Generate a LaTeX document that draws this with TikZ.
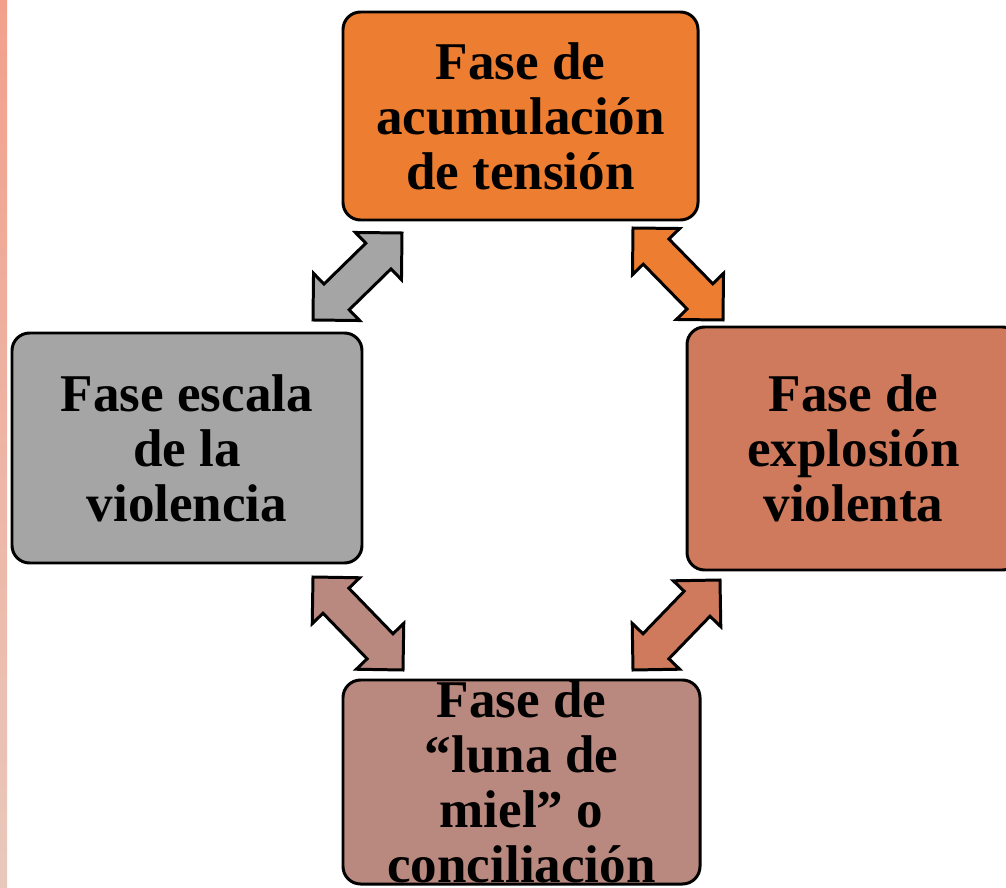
\documentclass[tikz,border=0pt]{standalone}
\definecolor{fase_naranja}{RGB}{237, 125, 49}
\definecolor{fase_gris}{RGB}{165, 165, 165}
\definecolor{fase_teja}{RGB}{207, 122, 92}
\definecolor{fase_rosa}{RGB}{185, 136, 126}
\definecolor{franja_alta}{RGB}{242, 160, 140}
\definecolor{franja_baja}{RGB}{233, 200, 188}
\usepackage{fontspec}
\setmainfont{Liberation Serif}
\usepackage{xcolor}
\usepackage{tikz}
\usetikzlibrary{calc}

% flecha de bloque con dos puntas: #1 relleno, #2 y #3 puntas
\newcommand{\flechadoble}[3]{%
  \draw[flecha, fill=#1] (#2)
    -- ($(#2)!0.66cm!(#3)!0.66cm!90:(#3)$)
    -- ($(#2)!0.66cm!(#3)!0.36cm!90:(#3)$)
    -- ($(#3)!0.66cm!(#2)!0.36cm!-90:(#2)$)
    -- ($(#3)!0.66cm!(#2)!0.66cm!-90:(#2)$)
    -- (#3)
    -- ($(#3)!0.66cm!(#2)!0.66cm!90:(#2)$)
    -- ($(#3)!0.66cm!(#2)!0.36cm!90:(#2)$)
    -- ($(#2)!0.66cm!(#3)!0.36cm!-90:(#3)$)
    -- ($(#2)!0.66cm!(#3)!0.66cm!-90:(#3)$)
    -- cycle;}

\begin{document}
\begin{tikzpicture}[
    fase/.style={draw, line width=1.7pt, rounded corners=10pt,
                 align=center, inner xsep=0.15cm, inner ysep=0pt,
                 font=\fontsize{30.2}{31.3}\selectfont\bfseries},
    flecha/.style={line width=1.7pt, line join=miter}]
  \useasboundingbox (0,0) rectangle (20.12,17.74);
  \fill[top color=franja_alta, bottom color=franja_baja]
        (0,0) rectangle (0.14,17.74);

  \node[fase, fill=fase_naranja, minimum width=7.1cm, minimum height=4.16cm]
        (acu) at (10.41,15.42) {Fase de\\acumulación\\de tensión};
  \node[fase, fill=fase_gris, minimum width=7cm, minimum height=4.6cm]
        (esc) at (3.74,8.78) {Fase escala\\de la\\violencia};
  \node[fase, fill=fase_teja, minimum width=6.66cm, minimum height=4.86cm]
        (exp) at (17.07,8.77) {Fase de\\explosión\\violenta};
  \node[fase, fill=fase_rosa, minimum width=7.14cm, minimum height=4.08cm]
        (lun) at (10.43,2.1) {Fase de\\“luna de\\miel” o\\conciliación};

  % puntas de las flechas
  \coordinate (gris_a) at (6.26,11.34);
  \coordinate (gris_b) at (8.04,13.08);
  \coordinate (nar_a) at (12.66,13.18);
  \coordinate (nar_b) at (14.46,11.34);
  \coordinate (rosa_a) at (6.26,6.2);
  \coordinate (rosa_b) at (8.06,4.34);
  \coordinate (teja_a) at (14.40,6.14);
  \coordinate (teja_b) at (12.66,4.34);

  \flechadoble{fase_gris}{gris_a}{gris_b}
  \flechadoble{fase_naranja}{nar_a}{nar_b}
  \flechadoble{fase_rosa}{rosa_a}{rosa_b}
  \flechadoble{fase_teja}{teja_a}{teja_b}
\end{tikzpicture}
\end{document}
